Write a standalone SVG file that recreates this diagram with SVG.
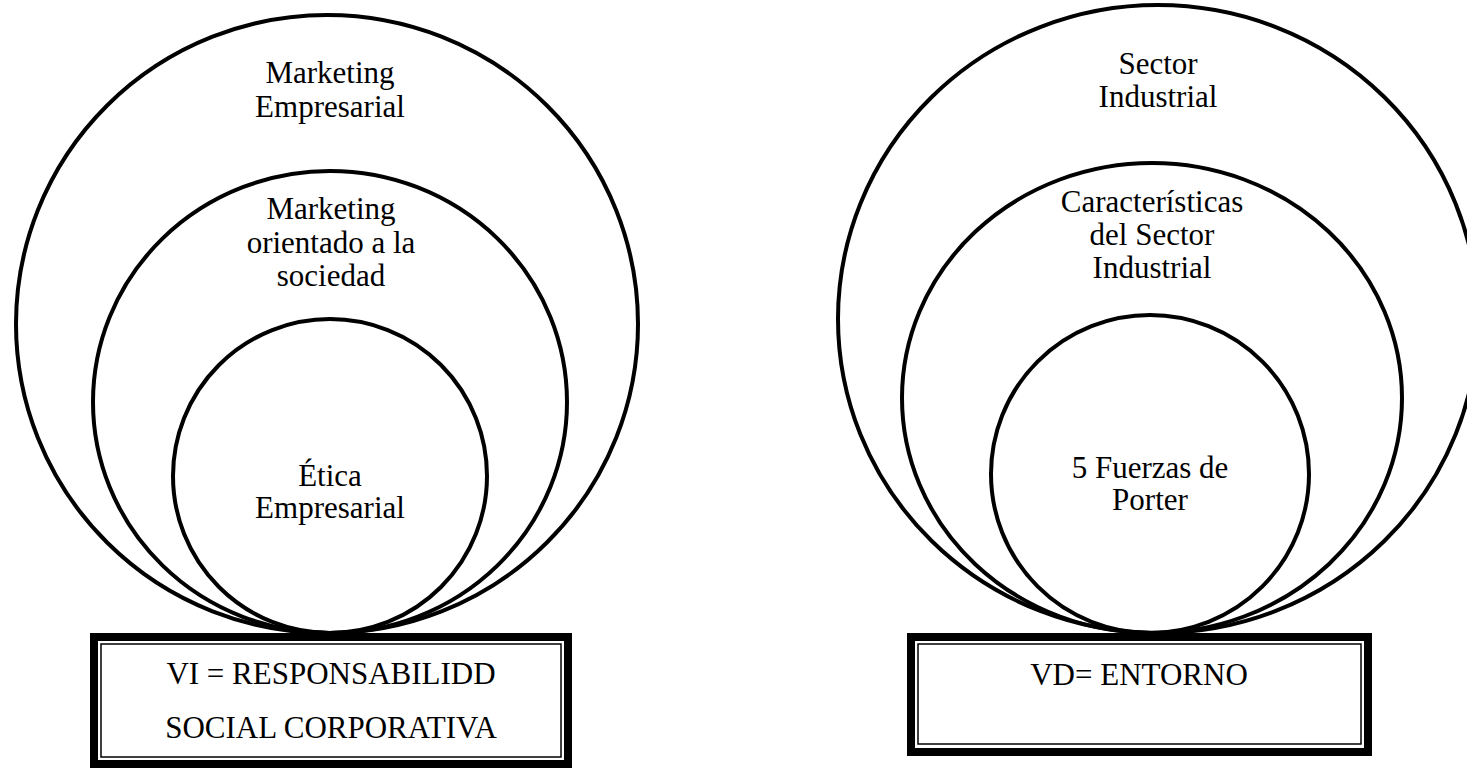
<svg xmlns="http://www.w3.org/2000/svg" width="1467" height="768" viewBox="0 0 1467 768">
  <style>
    .ring { fill: none; stroke: #000; stroke-width: 4; }
    .lbl { font-family: "Liberation Serif", "Times New Roman", serif; font-size: 31px; fill: #000; text-anchor: middle; }
    .frame-outer { fill: #fff; stroke: #000; stroke-width: 8; }
    .frame-inner { fill: none; stroke: #000; stroke-width: 1.5; }
  </style>
  <rect width="1467" height="768" fill="#fff"/>

  <!-- Left model: independent variable -->
  <g id="vi-marketing-empresarial">
    <ellipse class="ring" cx="327" cy="324" rx="311" ry="309"/>
    <text class="lbl" x="330" y="83">Marketing</text>
    <text class="lbl" x="330" y="117">Empresarial</text>
  </g>
  <g id="vi-marketing-sociedad">
    <ellipse class="ring" cx="330" cy="402" rx="237" ry="231"/>
    <text class="lbl" x="331" y="219">Marketing</text>
    <text class="lbl" x="331" y="253">orientado a la</text>
    <text class="lbl" x="331" y="286">sociedad</text>
  </g>
  <g id="vi-etica">
    <circle class="ring" cx="330" cy="476" r="157"/>
    <text class="lbl" x="330" y="486">Ética</text>
    <text class="lbl" x="330" y="518">Empresarial</text>
  </g>
  <g id="vi-box">
    <rect class="frame-outer" x="94" y="637" width="474" height="127"/>
    <rect class="frame-inner" x="101" y="644" width="460" height="113"/>
    <text class="lbl" x="331" y="684">VI = RESPONSABILIDD</text>
    <text class="lbl" x="331" y="738">SOCIAL CORPORATIVA</text>
  </g>

  <!-- Right model: dependent variable -->
  <g id="vd-sector">
    <ellipse class="ring" cx="1158" cy="319" rx="320" ry="314"/>
    <text class="lbl" x="1158" y="74">Sector</text>
    <text class="lbl" x="1158" y="107">Industrial</text>
  </g>
  <g id="vd-caracteristicas">
    <ellipse class="ring" cx="1152" cy="398" rx="250" ry="235"/>
    <text class="lbl" x="1152" y="212">Características</text>
    <text class="lbl" x="1152" y="245">del Sector</text>
    <text class="lbl" x="1152" y="278">Industrial</text>
  </g>
  <g id="vd-porter">
    <circle class="ring" cx="1150" cy="474" r="159"/>
    <text class="lbl" x="1150" y="478">5 Fuerzas de</text>
    <text class="lbl" x="1150" y="510">Porter</text>
  </g>
  <g id="vd-box">
    <rect class="frame-outer" x="911" y="637" width="457" height="115"/>
    <rect class="frame-inner" x="918" y="644" width="443" height="100"/>
    <text class="lbl" x="1139" y="685">VD= ENTORNO</text>
  </g>

  <g id="connectors"/>
</svg>
